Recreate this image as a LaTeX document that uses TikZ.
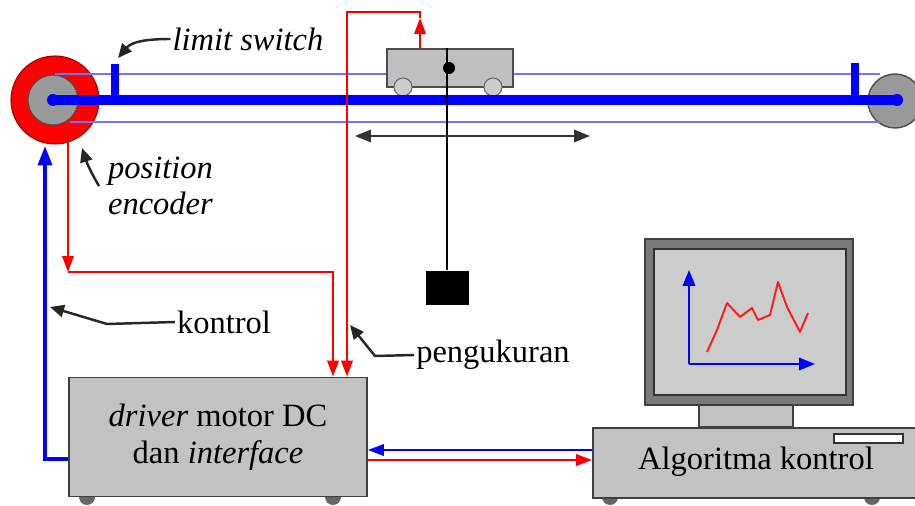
\documentclass[tikz,border=0pt]{standalone}
\usepackage{fontspec}
\setmainfont{Liberation Serif}
\usetikzlibrary{arrows, arrows.meta}

\tikzset{
	sig/.style={red, line width=1.1pt},
	sigarrow/.style={sig, -{Triangle[length=9pt,width=6.5pt]}},
	ctl/.style={blue, line width=2pt, -{Triangle[length=11pt,width=8pt]}},
	pointer/.style={black!85, line width=1.4pt, -{Triangle[length=8pt,width=7pt]}},
	rail/.style={blue!55, line width=0.8pt},
	lbl/.style={font=\fontsize{18.5}{21}\selectfont, inner sep=1pt},
	greybox/.style={draw=black!75, line width=1.1pt, fill=black!24},
	foot/.style={fill=black!60}
}

\begin{document}
\begin{tikzpicture}[x=0.02cm, y=-0.02cm]
	\useasboundingbox (0,0) rectangle (915,506);

	%pulleys
	\draw[fill=red, draw=red!60!black, line width=0.6pt] (55,100) circle (44);	%encoder ring
	\draw[fill=black!40, draw=black!70, line width=0.6pt] (53,100) circle (25);
	\draw[fill=black!40, draw=black!70, line width=0.8pt] (895,101) circle (27);	%right pulley

	%rails
	\draw[rail] (55,74) -- (880,74);		%upper rail
	\draw[rail] (70,122) -- (880,122);		%lower rail

	%cart
	\node[draw=black!70, fill=black!25, line width=0.8pt, minimum width=2.52cm, minimum height=0.76cm, inner sep=0pt] (cart) at (450,68) {};
	\draw[fill=black!20, draw=black!60, line width=0.6pt] (403,87) circle (9);	%wheels
	\draw[fill=black!20, draw=black!60, line width=0.6pt] (493,87) circle (9);

	%belt and limit switches
	\draw[blue, line width=6pt] (53,100) -- (897,100);
	\fill[blue] (53,100) circle (6);
	\fill[blue] (897,100) circle (6);
	\fill[blue] (111,64) rectangle (119,100);	%left switch
	\fill[blue] (851,63) rectangle (859,100);	%right switch

	%pendulum
	\node[fill=black, minimum width=0.86cm, minimum height=0.7cm, inner sep=0pt] (bob) at (447,288) {};
	\draw[black, line width=1.3pt] (447,0 |- cart.north) -- (bob.north);
	\fill (449,68) circle (6);		%pivot
	\draw[black!80, line width=1.2pt, {Triangle[length=9pt,width=7pt]}-{Triangle[length=9pt,width=7pt]}] (355,136) -- (590,136);

	%driver box
	\fill[foot] (87,497) circle (8);
	\fill[foot] (333,497) circle (8);
	\node[greybox, lbl, minimum width=5.96cm, minimum height=2.38cm, align=center, inner sep=0pt] (driver) at (218,437)
		{\textit{driver} motor DC\\dan \textit{interface}};

	%computer
	\fill[foot] (610,497) circle (8);
	\fill[foot] (872,497) circle (8);
	\draw[greybox] (699,400) rectangle (793,427);	%stand
	\node[greybox, lbl, minimum width=6.5cm, minimum height=1.4cm, inner sep=0pt, anchor=north west] (pc) at (592,427) {};
	\node[lbl] (algo) at (756,462) {Algoritma kontrol};
	\draw[fill=white, draw=black!80, line width=0.8pt] (834,434) rectangle (903,443);	%slot
	\draw[draw=black!75, line width=1.1pt, fill=black!52] (645,239) rectangle (853,405);	%monitor
	\draw[draw=black!80, line width=1.1pt, fill=black!20] (654,249) rectangle (846,395);	%screen
	\draw[blue, line width=1.3pt, -{Triangle[length=9pt,width=7pt]}] (689,364) -- (689,270);
	\draw[blue, line width=1.3pt, -{Triangle[length=9pt,width=7pt]}] (689,364) -- (815,364);
	\draw[red!90, line width=1.1pt, line join=round] (707,352) -- (717,330) -- (727,303) -- (740,317) -- (752,308) -- (758,320)
		-- (770,315) -- (778,282) -- (787,307) -- (800,332) -- (808,313);

	%signals
	\draw[sigarrow] (68,143) -- (68,272);
	\draw[sigarrow] (68,272) -- (333,272) -- (333,0 |- driver.north);	%encoder
	\draw[sigarrow] (420,0 |- cart.north) -- (420,18);
	\draw[sigarrow] (420,18) -- (420,12) -- (347,12) -- (347,0 |- driver.north);	%cart
	\draw[ctl] (driver.west |- 0,459) -- (45,459) -- (45,146);	%kontrol
	\draw[blue, line width=1.1pt, -{Triangle[length=9pt,width=6.5pt]}] (pc.west |- 0,450) -- (driver.east |- 0,450);
	\draw[sigarrow] (driver.east |- 0,460) -- (pc.west |- 0,460);

	%labels
	\node[lbl, font=\fontsize{18.5}{21}\selectfont\itshape] (lsw) at (248,39) {limit switch};
	\node[lbl, font=\fontsize{18.5}{20.5}\selectfont\itshape, align=left, anchor=north west] (enc) at (106,155) {position\\encoder};
	\node[lbl] (ktl) at (224,322) {kontrol};
	\node[lbl] (ukur) at (493,355) {pengukuran};
	\draw[pointer] (lsw.west) to[out=180, in=50] (118,58);
	\draw[pointer] ([xshift=-4pt]enc.west) to[bend left=6] (82,148);
	\draw[pointer] (ktl.west) -- (107,324) -- (50,307);
	\draw[pointer] (ukur.west) -- (375,356) -- (350,325);
\end{tikzpicture}
\end{document}
